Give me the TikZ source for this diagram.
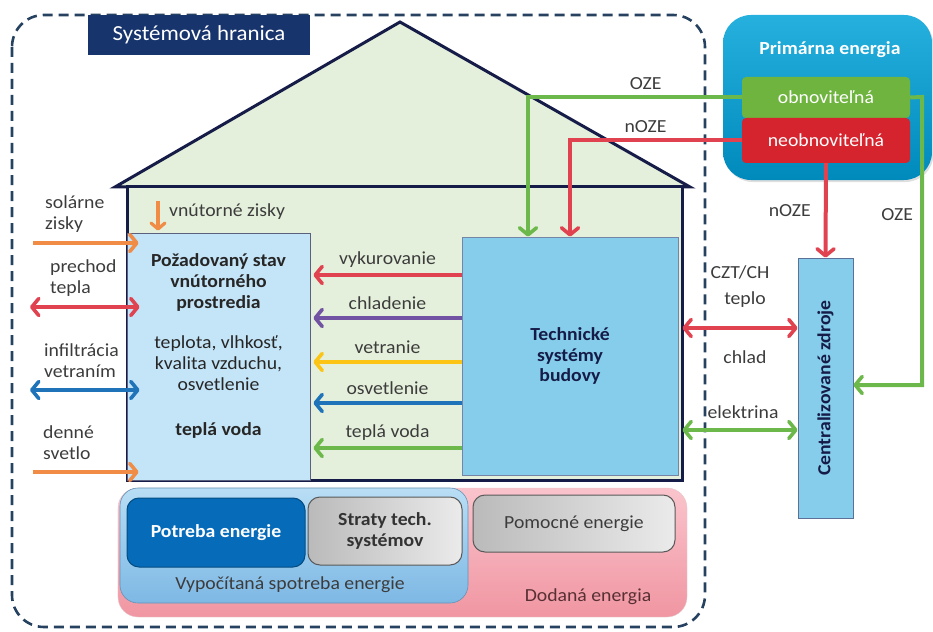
\documentclass[tikz,border=0pt]{standalone}
\usepackage{fontspec}
\setmainfont{Carlito}[FakeStretch=1.07]
\usetikzlibrary{arrows.meta, positioning, calc, shadows}

\definecolor{navy}{RGB}{24,52,108}
\definecolor{wallcol}{RGB}{22,28,72}
\definecolor{housefill}{RGB}{228,240,219}
\definecolor{statefill}{RGB}{196,228,247}
\definecolor{techfill}{RGB}{133,205,234}
\definecolor{primtop}{RGB}{38,176,222}
\definecolor{primbot}{RGB}{0,138,188}
\definecolor{renewcol}{RGB}{110,180,62}
\definecolor{fossilcol}{RGB}{214,36,46}
\definecolor{heatred}{RGB}{224,66,80}
\definecolor{coolviolet}{RGB}{114,82,162}
\definecolor{ventyellow}{RGB}{252,196,20}
\definecolor{lightingblue}{RGB}{30,115,185}
\definecolor{watergreen}{RGB}{108,184,74}
\definecolor{sunorange}{RGB}{240,140,70}
\definecolor{txtgray}{RGB}{60,60,60}
\definecolor{bounddash}{RGB}{38,66,96}
\definecolor{needblue}{RGB}{6,108,186}
\definecolor{calctop}{RGB}{185,222,245}
\definecolor{calcbot}{RGB}{125,184,228}
\definecolor{delivtop}{RGB}{250,196,204}
\definecolor{delivbot}{RGB}{240,150,162}
\definecolor{delivtext}{RGB}{88,48,52}

\newcommand\lblfont{\fontsize{18.5}{21}\selectfont}
\newcommand\boldfont{\fontsize{18.5}{21}\selectfont\bfseries}

\tikzset{
  lbl/.style={text=txtgray, font=\lblfont, inner sep=1bp},
  boundary/.style={draw=bounddash, line width=2.6bp, dash pattern=on 10bp off 6bp, rounded corners=32bp},
  titlebox/.style={fill=navy, text=white, font=\fontsize{21.5}{24}\selectfont, minimum width=222bp, minimum height=40bp},
  wall/.style={draw=wallcol, line width=3bp},
  statebox/.style={draw=wallcol!70, line width=0.8bp, fill=statefill, minimum width=183bp, minimum height=247bp},
  techbox/.style={draw=navy!60, line width=0.8bp, fill=techfill, minimum width=216bp, minimum height=238bp, font=\boldfont, text=wallcol, align=center},
  primbox/.style={top color=primtop, bottom color=primbot, rounded corners=28bp, minimum width=209bp, minimum height=165bp,
    drop shadow={shadow xshift=1.5bp, shadow yshift=-2bp, opacity=0.25}},
  srcbox/.style={text=white, font=\lblfont, rounded corners=4bp, minimum width=168bp, minimum height=41bp},
  barb/.tip={Straight Barb[length=7bp, width=17bp, line width=3.6bp, round]},
  flow/.style={line width=4bp, -barb},
  twoway/.style={line width=4bp, barb-barb},
  greybox/.style={left color=black!27, right color=black!8, draw=black!65, line width=1bp, rounded corners=12bp},
}

\begin{document}
\begin{tikzpicture}[x=1bp, y=-1bp]
  \useasboundingbox (0,0) rectangle (933,632);

  % system boundary with its title tab
  \draw[boundary] (12,15) rectangle (705,627);
  \node[titlebox] (title) at (199,35) {Systémová hranica};

  % primary energy sources
  \node[primbox] (prim) at (827.5,97.5) {};
  \node[font=\boldfont, text=white] (primtitle) at (830,50) {Primárna energia};
  \node[srcbox, fill=renewcol] (renew) at (826,97.5) {obnoviteľná};
  \node[srcbox, fill=fossilcol, minimum height=45bp] (fossil) at (826,140.5) {neobnoviteľná};

  % house: roof and walls
  \draw[wall, fill=housefill, line join=miter] (115,187) -- (400,22) -- (690,187) -- cycle;
  \draw[wall, fill=housefill] (127,187) rectangle (682,480);

  % indoor environment
  \node[statebox] (state) at (218.5,356.5) {};
  \node[lbl, align=center, text=black!85] (statetext) at (218.5,346)
    {\textbf{Požadovaný stav}\\ \textbf{vnútorného}\\ \textbf{prostredia}\\[19bp]
     teplota, vlhkosť,\\ kvalita vzduchu,\\ osvetlenie\\[24bp] \textbf{teplá voda}};

  % building services
  \node[techbox] (tech) at (570,356) {Technické\\systémy\\budovy};

  % services -> indoor environment
  \foreach \y/\col/\txt in {275/heatred/vykurovanie, 318/coolviolet/chladenie,
      362/ventyellow/vetranie, 403/lightingblue/osvetlenie, 448/watergreen/teplá voda}
    \draw[flow, \col] (tech.west |- 0,\y) -- ([xshift=3bp]state.east |- 0,\y)
      node[lbl, midway, above=5bp] {\txt};

  % exchanges through the envelope
  \coordinate (solar) at (33,243);
  \coordinate (trans) at (30,307);
  \coordinate (infil) at (30,390);
  \coordinate (daylt) at (33,472);
  \draw[flow, sunorange] (solar) -- ([xshift=12bp]state.west |- solar);
  \draw[twoway, heatred] (trans) -- ([xshift=13bp]state.west |- trans);
  \draw[twoway, lightingblue] (infil) -- ([xshift=13bp]state.west |- infil);
  \draw[flow, sunorange] (daylt) -- ([xshift=12bp]state.west |- daylt);
  \node[lbl, align=left, anchor=west] (solartxt) at (44,214) {solárne\\zisky};
  \node[lbl, align=left, anchor=west] (transtxt) at (49,278) {prechod\\tepla};
  \node[lbl, align=left, anchor=west] (infiltxt) at (43,361) {infiltrácia\\vetraním};
  \node[lbl, align=left, anchor=west] (dayltxt) at (42,443) {denné\\svetlo};

  % internal gains
  \coordinate (gain) at (158,201);
  \draw[line width=3.5bp, sunorange, -{Straight Barb[length=6bp, width=14bp, line width=3.2bp, round]}]
    (gain) -- ([yshift=2bp]gain |- state.north);
  \node[lbl, anchor=west] (gaintxt) at (168,212) {vnútorné zisky};

  % primary energy into the building
  \coordinate (ozeknee) at ([xshift=-42bp]tech.north |- renew.west);
  \coordinate (nozeknee) at (tech.north |- fossil.west);
  \draw[flow, watergreen] (renew.west) -- node[lbl, pos=0.45, above=5bp] {OZE} (ozeknee)
    -- ([xshift=-42bp]tech.north);
  \draw[flow, heatred] (fossil.west) -- node[lbl, pos=0.56, above=5bp] {nOZE} (nozeknee)
    -- (tech.north);

  % district supply
  \node[draw=navy!70, line width=0.8bp, fill=techfill, minimum width=260bp, minimum height=55bp,
        rotate=90, font=\boldfont, text=wallcol] (central) at (825.5,388) {Centralizované zdroje};
  \draw[flow, heatred] (fossil.south) -- node[lbl, midway, left=12bp] {nOZE} (central.east);
  \coordinate (ozeR1) at (922,97);
  \coordinate (ozeR2) at (922,385);
  \draw[flow, watergreen] (renew.east) -- (ozeR1) -- node[lbl, pos=0.41, left=6bp] {OZE} (ozeR2)
    -- (central.south |- ozeR2);
  \draw[twoway, heatred] ([xshift=4bp]tech.east |- 0,328) -- (central.north |- 0,328);
  \draw[twoway, watergreen] ([xshift=4bp]tech.east |- 0,430) -- (central.north |- 0,430);
  \node[lbl] (czt) at (740,272) {CZT/CH};
  \node[lbl] (heattxt) at (745,300) {teplo};
  \node[lbl] (cooltxt) at (745,357) {chlad};
  \node[lbl] (electxt) at (743,412) {elektrina};

  % energy balance
  \node[top color=delivtop, bottom color=delivbot, draw=delivbot!80!black!40, rounded corners=20bp,
        minimum width=569bp, minimum height=129bp] (deliv) at (402.5,552.5) {};
  \node[top color=calctop, bottom color=calcbot, draw=calcbot!80!black, line width=0.6bp, rounded corners=18bp,
        minimum width=348bp, minimum height=115bp] (calc) at (294,545.5) {};
  \node[fill=needblue, draw=needblue!70!black, line width=1bp, rounded corners=12bp, minimum width=178bp,
        minimum height=69bp, text=white, font=\boldfont] (need) at (216,532.5) {Potreba energie};
  \node[greybox, minimum width=154bp, minimum height=68bp, align=center, font=\boldfont,
        text=black!80] (loss) at (385,531) {Straty tech.\\systémov};
  \node[greybox, minimum width=202bp, minimum height=57bp, lbl] (aux) at (574,523.5) {Pomocné energie};
  \node[lbl] (calctxt) at (290,585) {Vypočítaná spotreba energie};
  \node[lbl, text=delivtext] (delivtxt) at (588,597) {Dodaná energia};
\end{tikzpicture}
\end{document}
